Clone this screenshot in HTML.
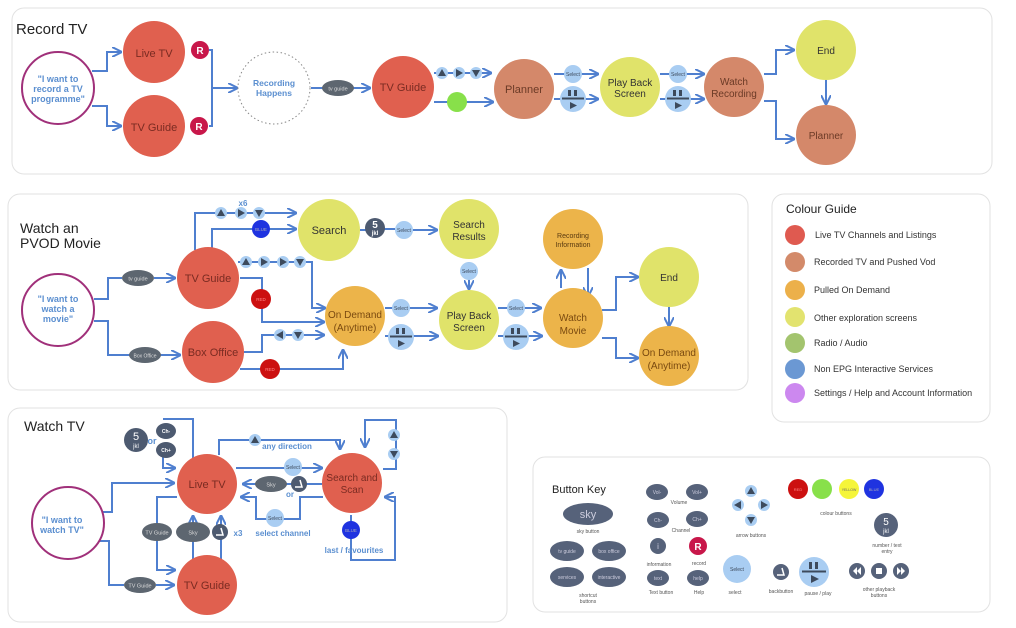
<!DOCTYPE html>
<html><head><meta charset="utf-8"><style>
html,body{margin:0;padding:0;background:#fff;width:1016px;height:628px;overflow:hidden}
svg{display:block}
text{font-family:"Liberation Sans","DejaVu Sans",sans-serif}
</style></head><body>
<svg width="1016" height="628" viewBox="0 0 1016 628" xmlns="http://www.w3.org/2000/svg">
<defs>
<marker id="a" viewBox="0 0 10 10" refX="9" refY="5" markerWidth="5" markerHeight="5" orient="auto"><path d="M0,0 L10,5 L0,10" fill="none" stroke="#4f7fcf" stroke-width="2"/></marker>
</defs>
<!-- panels -->
<g fill="#fff" stroke="#e2e2e2" stroke-width="1">
<rect x="12" y="8" width="980" height="166" rx="12"/>
<rect x="8" y="194" width="740" height="196" rx="12"/>
<rect x="772" y="194" width="218" height="228" rx="12"/>
<rect x="8" y="408" width="499" height="214" rx="12"/>
<rect x="533" y="457" width="457" height="155" rx="12"/>
</g>

<!-- ================= RECORD TV ================= -->
<text x="16" y="34" font-size="15" fill="#222">Record TV</text>
<g fill="none" stroke="#4f7fcf" stroke-width="2">
<path d="M92,71 H107 V52 H121" marker-end="url(#a)"/>
<path d="M92,106 H107 V126 H121" marker-end="url(#a)"/>
<path d="M209,50 H212 V126 H209 M212,88 H237" marker-end="url(#a)"/>
<path d="M311,88 H370" marker-end="url(#a)"/>
<path d="M434,73 H491" marker-end="url(#a)"/>
<path d="M434,102 H493" marker-end="url(#a)"/>
<path d="M554,74 H598" marker-end="url(#a)"/>
<path d="M554,99 H598" marker-end="url(#a)"/>
<path d="M660,74 H704" marker-end="url(#a)"/>
<path d="M660,99 H704" marker-end="url(#a)"/>
<path d="M764,74 H776 V50 H794" marker-end="url(#a)"/>
<path d="M764,101 H776 V139 H794" marker-end="url(#a)"/>
<path d="M826,80 V104" marker-end="url(#a)"/>
</g>
<circle cx="58" cy="88" r="36" fill="#fff" stroke="#a0307a" stroke-width="2"/>
<text x="58" y="82" font-size="9" font-weight="bold" fill="#5b8fd0" text-anchor="middle">"I want to</text>
<text x="58" y="92" font-size="9" font-weight="bold" fill="#5b8fd0" text-anchor="middle">record a TV</text>
<text x="58" y="102" font-size="9" font-weight="bold" fill="#5b8fd0" text-anchor="middle">programme"</text>
<circle cx="154" cy="52" r="31" fill="#e0604f"/><text x="154" y="57" font-size="11" fill="#7a2b22" text-anchor="middle">Live TV</text>
<circle cx="154" cy="126" r="31" fill="#e0604f"/><text x="154" y="131" font-size="11" fill="#7a2b22" text-anchor="middle">TV Guide</text>
<circle cx="200" cy="50" r="9" fill="#c8174a"/><text x="200" y="54" font-size="10" font-weight="bold" fill="#fff" text-anchor="middle">R</text>
<circle cx="199" cy="126" r="9" fill="#c8174a"/><text x="199" y="130" font-size="10" font-weight="bold" fill="#fff" text-anchor="middle">R</text>
<circle cx="274" cy="88" r="36" fill="#fff" stroke="#888" stroke-width="1" stroke-dasharray="1.5,2.5"/>
<text x="274" y="86" font-size="8.5" font-weight="bold" fill="#5b8fd0" text-anchor="middle">Recording</text>
<text x="274" y="96" font-size="8.5" font-weight="bold" fill="#5b8fd0" text-anchor="middle">Happens</text>
<ellipse cx="338" cy="88" rx="16" ry="8" fill="#5d6670"/><text x="338" y="90.5" font-size="5.5" fill="#ddd" text-anchor="middle">tv guide</text>
<circle cx="403" cy="87" r="31" fill="#e0604f"/><text x="403" y="91" font-size="11" fill="#7a2b22" text-anchor="middle">TV Guide</text>
<g fill="#a9cdf2"><circle cx="442" cy="73" r="6"/><circle cx="459" cy="73" r="6"/><circle cx="476" cy="73" r="6"/></g>
<g fill="#3d4a5c"><path d="M438,76 L446,76 L442,69Z"/><path d="M456,69 L463,73 L456,77Z"/><path d="M472,70 L480,70 L476,77Z"/></g>
<circle cx="457" cy="102" r="10" fill="#88e04a"/>
<circle cx="524" cy="89" r="30" fill="#d4886a"/><text x="524" y="93" font-size="11" fill="#6b3a26" text-anchor="middle">Planner</text>
<circle cx="573" cy="74" r="9" fill="#a9cdf2"/><text x="573" y="76" font-size="5" fill="#3d4a5c" text-anchor="middle">Select</text>
<g transform="translate(573,99)"><circle r="13" fill="#a9cdf2"/><rect x="-5" y="-9" width="3" height="6" fill="#3d4a5c"/><rect x="1" y="-9" width="3" height="6" fill="#3d4a5c"/><rect x="-11" y="-1.5" width="22" height="2" fill="#3d4a5c"/><path d="M-3,3 L4,6.5 L-3,10Z" fill="#3d4a5c"/></g>
<circle cx="630" cy="87" r="30" fill="#e0e36a"/><text x="630" y="86" font-size="10" fill="#333" text-anchor="middle">Play Back</text><text x="630" y="97" font-size="10" fill="#333" text-anchor="middle">Screen</text>
<circle cx="678" cy="74" r="9" fill="#a9cdf2"/><text x="678" y="76" font-size="5" fill="#3d4a5c" text-anchor="middle">Select</text>
<g transform="translate(678,99)"><circle r="13" fill="#a9cdf2"/><rect x="-5" y="-9" width="3" height="6" fill="#3d4a5c"/><rect x="1" y="-9" width="3" height="6" fill="#3d4a5c"/><rect x="-11" y="-1.5" width="22" height="2" fill="#3d4a5c"/><path d="M-3,3 L4,6.5 L-3,10Z" fill="#3d4a5c"/></g>
<circle cx="734" cy="87" r="30" fill="#d4886a"/><text x="734" y="85" font-size="10" fill="#6b3a26" text-anchor="middle">Watch</text><text x="734" y="97" font-size="10" fill="#6b3a26" text-anchor="middle">Recording</text>
<circle cx="826" cy="50" r="30" fill="#e0e36a"/><text x="826" y="54" font-size="10" fill="#333" text-anchor="middle">End</text>
<circle cx="826" cy="135" r="30" fill="#d4886a"/><text x="826" y="139" font-size="10" fill="#6b3a26" text-anchor="middle">Planner</text>

<!-- ================= WATCH PVOD ================= -->
<text x="20" y="233" font-size="14" fill="#222">Watch an</text>
<text x="20" y="248" font-size="14" fill="#222">PVOD Movie</text>
<g fill="none" stroke="#4f7fcf" stroke-width="2">
<path d="M94,299 H108 V278 H122"/>
<path d="M154,278 H175" marker-end="url(#a)"/>
<path d="M94,321 H108 V355 H130"/>
<path d="M160,355 H180" marker-end="url(#a)"/>
<path d="M195,250 V213 H296" marker-end="url(#a)"/>
<path d="M212,248 V229 H296" marker-end="url(#a)"/>
<path d="M238,262 H312 V308 H325" marker-end="url(#a)"/>
<path d="M240,278 H262 V322 H324" marker-end="url(#a)"/>
<path d="M244,352 H262 V335 H324" marker-end="url(#a)"/>
<path d="M240,369 H343 V350" marker-end="url(#a)"/>
<path d="M360,230 H367 M384,229 H395 M413,230 H437" marker-end="url(#a)"/>
<path d="M469,262 V289" marker-end="url(#a)"/>
<path d="M385,308 H437" marker-end="url(#a)"/>
<path d="M385,336 H438" marker-end="url(#a)"/>
<path d="M498,308 H541" marker-end="url(#a)"/>
<path d="M498,336 H542" marker-end="url(#a)"/>
<path d="M561,288 V270" marker-end="url(#a)"/>
<path d="M588,268 V296" marker-end="url(#a)"/>
<path d="M602,310 H616 V277 H638" marker-end="url(#a)"/>
<path d="M602,338 H616 V358 H638" marker-end="url(#a)"/>
<path d="M669,307 V326" marker-end="url(#a)"/>
</g>
<circle cx="58" cy="310" r="36" fill="#fff" stroke="#a0307a" stroke-width="2"/>
<text x="58" y="302" font-size="9" font-weight="bold" fill="#5b8fd0" text-anchor="middle">"I want to</text>
<text x="58" y="312" font-size="9" font-weight="bold" fill="#5b8fd0" text-anchor="middle">watch a</text>
<text x="58" y="322" font-size="9" font-weight="bold" fill="#5b8fd0" text-anchor="middle">movie"</text>
<ellipse cx="138" cy="278" rx="16" ry="8" fill="#5d6670"/><text x="138" y="280.5" font-size="5.5" fill="#ddd" text-anchor="middle">tv guide</text>
<ellipse cx="145" cy="355" rx="16" ry="8" fill="#5d6670"/><text x="145" y="357.5" font-size="5" fill="#ddd" text-anchor="middle">Box Office</text>
<circle cx="208" cy="278" r="31" fill="#e0604f"/><text x="208" y="282" font-size="11" fill="#7a2b22" text-anchor="middle">TV Guide</text>
<circle cx="213" cy="352" r="31" fill="#e0604f"/><text x="213" y="356" font-size="11" fill="#7a2b22" text-anchor="middle">Box Office</text>
<text x="243" y="206" font-size="8" font-weight="bold" fill="#5b8fd0" text-anchor="middle">x6</text>
<g fill="#a9cdf2"><circle cx="221" cy="213" r="6"/><circle cx="241" cy="213" r="6"/><circle cx="259" cy="213" r="6"/>
<circle cx="246" cy="262" r="6"/><circle cx="264" cy="262" r="6"/><circle cx="283" cy="262" r="6"/><circle cx="300" cy="262" r="6"/>
<circle cx="280" cy="335" r="6"/><circle cx="298" cy="335" r="6"/></g>
<g fill="#3d4a5c"><path d="M217,216 L225,216 L221,209Z"/><path d="M238,209 L245,213 L238,217Z"/><path d="M255,210 L263,210 L259,217Z"/>
<path d="M242,265 L250,265 L246,258Z"/><path d="M261,258 L268,262 L261,266Z"/><path d="M280,258 L287,262 L280,266Z"/><path d="M296,259 L304,259 L300,266Z"/>
<path d="M283,331 L276,335 L283,339Z"/><path d="M294,332 L302,332 L298,339Z"/></g>
<circle cx="261" cy="229" r="9" fill="#1f33e0"/><text x="261" y="231" font-size="4.5" fill="#aab" text-anchor="middle">BLUE</text>
<circle cx="261" cy="299" r="10" fill="#cc1010"/><text x="261" y="301" font-size="4.5" fill="#f88" text-anchor="middle">RED</text>
<circle cx="270" cy="369" r="10" fill="#cc1010"/><text x="270" y="371" font-size="4.5" fill="#f88" text-anchor="middle">RED</text>
<circle cx="329" cy="230" r="31" fill="#e0e36a"/><text x="329" y="234" font-size="11" fill="#333" text-anchor="middle">Search</text>
<circle cx="375" cy="228" r="10" fill="#4d5a70"/><text x="375" y="228" font-size="10" font-weight="bold" fill="#fff" text-anchor="middle">5</text><text x="375" y="235" font-size="6" font-weight="bold" fill="#fff" text-anchor="middle">jkl</text>
<circle cx="404" cy="230" r="9" fill="#a9cdf2"/><text x="404" y="232" font-size="5" fill="#3d4a5c" text-anchor="middle">Select</text>
<circle cx="469" cy="229" r="30" fill="#e0e36a"/><text x="469" y="228" font-size="10" fill="#333" text-anchor="middle">Search</text><text x="469" y="240" font-size="10" fill="#333" text-anchor="middle">Results</text>
<circle cx="469" cy="271" r="9" fill="#a9cdf2"/><text x="469" y="273" font-size="5" fill="#3d4a5c" text-anchor="middle">Select</text>
<circle cx="355" cy="316" r="30" fill="#ecb44a"/><text x="355" y="318" font-size="10" fill="#7a4a10" text-anchor="middle">On Demand</text><text x="355" y="331" font-size="10" fill="#7a4a10" text-anchor="middle">(Anytime)</text>
<circle cx="401" cy="308" r="9" fill="#a9cdf2"/><text x="401" y="310" font-size="5" fill="#3d4a5c" text-anchor="middle">Select</text>
<g transform="translate(401,337)"><circle r="13" fill="#a9cdf2"/><rect x="-5" y="-9" width="3" height="6" fill="#3d4a5c"/><rect x="1" y="-9" width="3" height="6" fill="#3d4a5c"/><rect x="-11" y="-1.5" width="22" height="2" fill="#3d4a5c"/><path d="M-3,3 L4,6.5 L-3,10Z" fill="#3d4a5c"/></g>
<circle cx="469" cy="320" r="30" fill="#e0e36a"/><text x="469" y="319" font-size="10" fill="#333" text-anchor="middle">Play Back</text><text x="469" y="331" font-size="10" fill="#333" text-anchor="middle">Screen</text>
<circle cx="516" cy="308" r="9" fill="#a9cdf2"/><text x="516" y="310" font-size="5" fill="#3d4a5c" text-anchor="middle">Select</text>
<g transform="translate(516,337)"><circle r="13" fill="#a9cdf2"/><rect x="-5" y="-9" width="3" height="6" fill="#3d4a5c"/><rect x="1" y="-9" width="3" height="6" fill="#3d4a5c"/><rect x="-11" y="-1.5" width="22" height="2" fill="#3d4a5c"/><path d="M-3,3 L4,6.5 L-3,10Z" fill="#3d4a5c"/></g>
<circle cx="573" cy="318" r="30" fill="#ecb44a"/><text x="573" y="321" font-size="10" fill="#7a4a10" text-anchor="middle">Watch</text><text x="573" y="334" font-size="10" fill="#7a4a10" text-anchor="middle">Movie</text>
<circle cx="573" cy="239" r="30" fill="#ecb44a"/><text x="573" y="238" font-size="7" fill="#5a3a10" text-anchor="middle">Recording</text><text x="573" y="247" font-size="7" fill="#5a3a10" text-anchor="middle">Information</text>
<circle cx="669" cy="277" r="30" fill="#e0e36a"/><text x="669" y="281" font-size="10" fill="#333" text-anchor="middle">End</text>
<circle cx="669" cy="356" r="30" fill="#ecb44a"/><text x="669" y="356" font-size="10" fill="#7a4a10" text-anchor="middle">On Demand</text><text x="669" y="369" font-size="10" fill="#7a4a10" text-anchor="middle">(Anytime)</text>

<!-- ================= COLOUR GUIDE ================= -->
<text x="786" y="213" font-size="12" fill="#222">Colour Guide</text>
<g font-size="9" fill="#333">
<circle cx="795" cy="235" r="10" fill="#df5a50"/><text x="815" y="238">Live TV Channels and Listings</text>
<circle cx="795" cy="262" r="10" fill="#d38a6a"/><text x="814" y="265">Recorded TV and Pushed Vod</text>
<circle cx="795" cy="290" r="10" fill="#ecb04a"/><text x="814" y="293">Pulled On Demand</text>
<circle cx="795" cy="317" r="10" fill="#e2e36f"/><text x="814" y="321">Other exploration screens</text>
<circle cx="795" cy="343" r="10" fill="#a3c46e"/><text x="814" y="346">Radio / Audio</text>
<circle cx="795" cy="369" r="10" fill="#6b98d3"/><text x="814" y="372">Non EPG Interactive Services</text>
<circle cx="795" cy="393" r="10" fill="#cc88ef"/><text x="814" y="396">Settings / Help and Account Information</text>
</g>

<!-- ================= WATCH TV ================= -->
<text x="24" y="431" font-size="14" fill="#222">Watch TV</text>
<g fill="none" stroke="#4f7fcf" stroke-width="2">
<path d="M163,419 H193 V462"/>
<path d="M163,456 V468 H175" marker-end="url(#a)"/>
<path d="M99,512 H112 V483 H174" marker-end="url(#a)"/>
<path d="M99,541 H109 V585 H124 M156,585 H174" marker-end="url(#a)"/>
<path d="M177,497 H157 V570 H175" marker-end="url(#a)"/>
<path d="M193,565 V516" marker-end="url(#a)"/>
<path d="M221,560 V516" marker-end="url(#a)"/>
<path d="M219,455 V440 H340 V449" marker-end="url(#a)"/>
<path d="M236,468 H322" marker-end="url(#a)"/>
<path d="M322,484 H243" marker-end="url(#a)"/>
<path d="M323,497 H300 V519 H256 V497 H241" marker-end="url(#a)"/>
<path d="M383,469 H396 V420 H365 V447" marker-end="url(#a)"/>
<path d="M351,515 V560 H395 V497 H385" marker-end="url(#a)"/>
</g>
<circle cx="68" cy="523" r="36" fill="#fff" stroke="#a0307a" stroke-width="2"/>
<text x="62" y="523" font-size="9" font-weight="bold" fill="#5b8fd0" text-anchor="middle">"I want to</text>
<text x="62" y="533" font-size="9" font-weight="bold" fill="#5b8fd0" text-anchor="middle">watch TV"</text>
<circle cx="136" cy="440" r="12" fill="#4d5a70"/><text x="136" y="440" font-size="11" fill="#fff" text-anchor="middle">5</text><text x="136" y="448" font-size="6" fill="#fff" text-anchor="middle">jkl</text>
<text x="152" y="444" font-size="9" font-weight="bold" fill="#5b8fd0" text-anchor="middle">or</text>
<ellipse cx="166" cy="431" rx="10" ry="8" fill="#4d5a70"/><text x="166" y="433" font-size="5" font-weight="bold" fill="#fff" text-anchor="middle">Ch-</text>
<ellipse cx="166" cy="450" rx="10" ry="8" fill="#4d5a70"/><text x="166" y="452" font-size="5" font-weight="bold" fill="#fff" text-anchor="middle">Ch+</text>
<circle cx="207" cy="484" r="30" fill="#e0604f"/><text x="207" y="488" font-size="11" fill="#7a2b22" text-anchor="middle">Live TV</text>
<circle cx="207" cy="585" r="30" fill="#e0604f"/><text x="207" y="589" font-size="11" fill="#7a2b22" text-anchor="middle">TV Guide</text>
<circle cx="352" cy="483" r="30" fill="#e0604f"/><text x="352" y="481" font-size="10" fill="#7a2b22" text-anchor="middle">Search and</text><text x="352" y="493" font-size="10" fill="#7a2b22" text-anchor="middle">Scan</text>
<ellipse cx="140" cy="585" rx="16" ry="8" fill="#5d6670"/><text x="140" y="587.5" font-size="5.5" fill="#ddd" text-anchor="middle">TV Guide</text>
<ellipse cx="157" cy="532" rx="15" ry="9" fill="#5d6670"/><text x="157" y="534.5" font-size="5.5" fill="#ddd" text-anchor="middle">TV Guide</text>
<ellipse cx="193" cy="532" rx="17" ry="10" fill="#5d6670"/><text x="193" y="534.5" font-size="5.5" fill="#ddd" text-anchor="middle">Sky</text>
<circle cx="220" cy="532" r="8" fill="#4d5a70"/><path d="M216,535 L223,535 L221,528" stroke="#fff" stroke-width="1.5" fill="none"/>
<text x="238" y="536" font-size="8" font-weight="bold" fill="#5b8fd0" text-anchor="middle">x3</text>
<circle cx="255" cy="440" r="6" fill="#a9cdf2"/><path d="M251,443 L259,443 L255,436Z" fill="#3d4a5c"/>
<text x="287" y="449" font-size="8" font-weight="bold" fill="#5b8fd0" text-anchor="middle">any direction</text>
<circle cx="293" cy="467" r="9" fill="#a9cdf2"/><text x="293" y="469" font-size="5" fill="#3d4a5c" text-anchor="middle">Select</text>
<ellipse cx="271" cy="484" rx="16" ry="8" fill="#5d6670"/><text x="271" y="486.5" font-size="5.5" fill="#ddd" text-anchor="middle">Sky</text>
<circle cx="299" cy="484" r="8" fill="#4d5a70"/><path d="M295,487 L302,487 L300,480" stroke="#fff" stroke-width="1.5" fill="none"/>
<text x="290" y="497" font-size="8" font-weight="bold" fill="#5b8fd0" text-anchor="middle">or</text>
<circle cx="275" cy="518" r="9" fill="#a9cdf2"/><text x="275" y="520" font-size="5" fill="#3d4a5c" text-anchor="middle">Select</text>
<text x="283" y="536" font-size="8" font-weight="bold" fill="#5b8fd0" text-anchor="middle">select channel</text>
<circle cx="394" cy="435" r="6" fill="#a9cdf2"/><path d="M390,438 L398,438 L394,431Z" fill="#3d4a5c"/>
<circle cx="394" cy="454" r="6" fill="#a9cdf2"/><path d="M390,451 L398,451 L394,458Z" fill="#3d4a5c"/>
<circle cx="351" cy="530" r="9" fill="#1f33e0"/><text x="351" y="532" font-size="4.5" fill="#aab" text-anchor="middle">BLUE</text>
<text x="354" y="553" font-size="8" font-weight="bold" fill="#5b8fd0" text-anchor="middle">last / favourites</text>

<!-- ================= BUTTON KEY ================= -->
<text x="552" y="493" font-size="11" fill="#222">Button Key</text>
<g font-size="5" fill="#555" text-anchor="middle">
<ellipse cx="588" cy="514" rx="25" ry="11" fill="#56627a"/><text x="588" y="518" font-size="11" fill="#ccd">sky</text>
<text x="588" y="533">sky button</text>
<ellipse cx="567" cy="551" rx="17" ry="10" fill="#56627a"/><text x="567" y="553" fill="#ccd">tv guide</text>
<ellipse cx="609" cy="551" rx="17" ry="10" fill="#56627a"/><text x="609" y="553" fill="#ccd">box office</text>
<ellipse cx="567" cy="577" rx="17" ry="10" fill="#56627a"/><text x="567" y="579" fill="#ccd">services</text>
<ellipse cx="609" cy="577" rx="17" ry="10" fill="#56627a"/><text x="609" y="579" fill="#ccd">interactive</text>
<text x="588" y="597">shortcut</text><text x="588" y="603">buttons</text>
<ellipse cx="657" cy="492" rx="11" ry="8" fill="#56627a"/><text x="657" y="494" fill="#ccd">Vol-</text>
<ellipse cx="697" cy="492" rx="11" ry="8" fill="#56627a"/><text x="697" y="494" fill="#ccd">Vol+</text>
<text x="679" y="504">Volume</text>
<ellipse cx="658" cy="520" rx="11" ry="8" fill="#56627a"/><text x="658" y="522" fill="#ccd">Ch-</text>
<ellipse cx="697" cy="519" rx="11" ry="8" fill="#56627a"/><text x="697" y="521" fill="#ccd">Ch+</text>
<text x="681" y="532">Channel</text>
<circle cx="658" cy="546" r="8" fill="#56627a"/><text x="658" y="549" font-size="8" fill="#ccd">i</text>
<circle cx="698" cy="546" r="9" fill="#c8174a"/><text x="698" y="550" font-size="10" font-weight="bold" fill="#fff">R</text>
<text x="659" y="566">information</text><text x="699" y="565">record</text>
<ellipse cx="658" cy="578" rx="11" ry="8" fill="#56627a"/><text x="658" y="580" fill="#ccd">text</text>
<ellipse cx="698" cy="578" rx="11" ry="8" fill="#56627a"/><text x="698" y="580" fill="#ccd">help</text>
<text x="661" y="594">Text button</text><text x="699" y="594">Help</text>
<circle cx="751" cy="491" r="6" fill="#a9cdf2"/><path d="M747,494 L755,494 L751,487Z" fill="#3d4a5c"/>
<circle cx="738" cy="505" r="6" fill="#a9cdf2"/><path d="M741,501 L734,505 L741,509Z" fill="#3d4a5c"/>
<circle cx="764" cy="505" r="6" fill="#a9cdf2"/><path d="M761,501 L768,505 L761,509Z" fill="#3d4a5c"/>
<circle cx="751" cy="520" r="6" fill="#a9cdf2"/><path d="M747,517 L755,517 L751,524Z" fill="#3d4a5c"/>
<text x="751" y="537">arrow buttons</text>
<circle cx="798" cy="489" r="10" fill="#cc1010"/><text x="798" y="491" font-size="4" fill="#f88">RED</text>
<circle cx="822" cy="489" r="10" fill="#88e04a"/>
<circle cx="849" cy="489" r="10" fill="#f5f53a"/><text x="849" y="491" font-size="3.5" fill="#666">YELLOW</text>
<circle cx="874" cy="489" r="10" fill="#1f33e0"/><text x="874" y="491" font-size="4" fill="#aab">BLUE</text>
<text x="836" y="515">colour buttons</text>
<circle cx="886" cy="525" r="12" fill="#56627a"/><text x="886" y="525" font-size="10" fill="#fff">5</text><text x="886" y="533" font-size="6" fill="#fff">jkl</text>
<text x="887" y="547">number / text</text><text x="887" y="553">entry</text>
<circle cx="737" cy="569" r="14" fill="#a9cdf2"/><text x="737" y="571" fill="#3d4a5c">Select</text>
<text x="735" y="594">select</text>
<circle cx="781" cy="572" r="8" fill="#56627a"/><path d="M777,575 L784,575 L782,568" stroke="#fff" stroke-width="1.5" fill="none"/>
<text x="781" y="593">backbutton</text>
<g transform="translate(814,572)"><circle r="15" fill="#a9cdf2"/><rect x="-5" y="-10" width="3" height="7" fill="#3d4a5c"/><rect x="1" y="-10" width="3" height="7" fill="#3d4a5c"/><rect x="-12" y="-1.5" width="24" height="2" fill="#3d4a5c"/><path d="M-3,3 L5,7 L-3,11Z" fill="#3d4a5c"/></g>
<text x="818" y="595">pause / play</text>
<circle cx="857" cy="571" r="8" fill="#56627a"/><path d="M857,567 L853,571 L857,575Z M861,567 L857,571 L861,575Z" fill="#fff"/>
<circle cx="879" cy="571" r="8" fill="#56627a"/><rect x="876" y="568" width="6" height="6" fill="#fff"/>
<circle cx="901" cy="571" r="8" fill="#56627a"/><path d="M897,567 L901,571 L897,575Z M901,567 L905,571 L901,575Z" fill="#fff"/>
<text x="879" y="591">other playback</text><text x="879" y="597">buttons</text>
</g>
</svg>
</body></html>
